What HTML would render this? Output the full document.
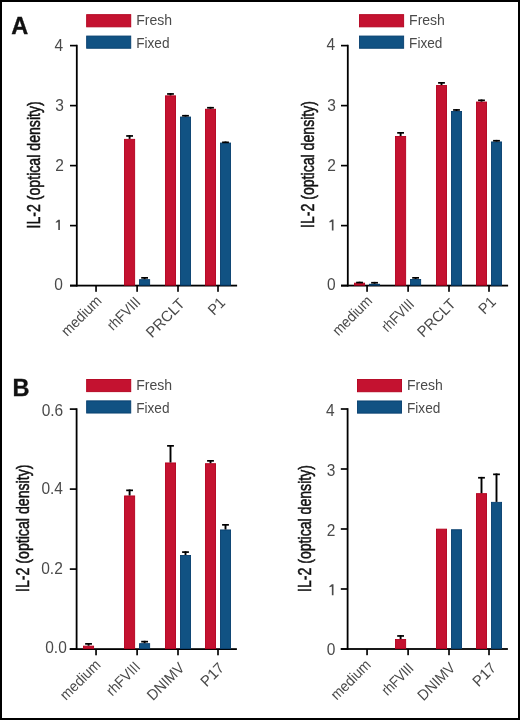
<!DOCTYPE html>
<html><head><meta charset="utf-8"><style>
html,body{margin:0;padding:0;background:#fff;}
.f{position:relative;width:516px;height:716px;border:2px solid #000;background:#fff;overflow:hidden;}
svg{position:absolute;left:-2px;top:-2px;will-change:transform;}
text{font-family:"Liberation Sans",sans-serif;}
</style></head><body><div class="f">
<svg width="520" height="720" viewBox="0 0 520 720">
<rect x="75.90" y="44.78" width="1.80" height="241.72" fill="#000"/>
<rect x="70.00" y="284.70" width="167.10" height="1.80" fill="#000"/>
<rect x="70.00" y="284.78" width="6.80" height="1.65" fill="#000"/>
<text transform="translate(62.80,290.45) scale(0.9700,1)" font-size="16" text-anchor="end" fill="#4a4a4a">0</text>
<rect x="70.00" y="224.78" width="6.80" height="1.65" fill="#000"/>
<path d="M58.25,219.70 L59.90,219.70 L59.90,230.00 L58.25,230.00 L58.25,222.00 L55.90,222.80 L55.70,221.90 Z" fill="#4a4a4a"/>
<rect x="70.00" y="164.78" width="6.80" height="1.65" fill="#000"/>
<text transform="translate(63.80,170.60) scale(0.9700,1)" font-size="16" text-anchor="end" fill="#4a4a4a">2</text>
<rect x="70.00" y="104.78" width="6.80" height="1.65" fill="#000"/>
<text transform="translate(63.80,111.10) scale(0.9700,1)" font-size="16" text-anchor="end" fill="#4a4a4a">3</text>
<rect x="70.00" y="44.78" width="6.80" height="1.65" fill="#000"/>
<text transform="translate(63.20,50.80) scale(0.9700,1)" font-size="16" text-anchor="end" fill="#4a4a4a">4</text>
<rect x="95.22" y="285.60" width="1.65" height="6.20" fill="#000"/>
<text transform="translate(102.60,301.80) rotate(-45) scale(0.9371,1)" font-size="15" text-anchor="end" fill="#4a4a4a">medium</text>
<rect x="136.28" y="285.60" width="1.65" height="6.20" fill="#000"/>
<text transform="translate(141.40,303.00) rotate(-45) scale(0.8915,1)" font-size="15" text-anchor="end" fill="#4a4a4a">rhFVIII</text>
<rect x="177.18" y="285.60" width="1.65" height="6.20" fill="#000"/>
<text transform="translate(185.80,304.60) rotate(-45) scale(0.9969,1)" font-size="15" text-anchor="end" fill="#4a4a4a">PRCLT</text>
<rect x="217.18" y="285.60" width="1.65" height="6.20" fill="#000"/>
<text transform="translate(226.20,303.60) rotate(-45) scale(0.9490,1)" font-size="15" text-anchor="end" fill="#4a4a4a">P1</text>
<rect x="124.55" y="139.35" width="10.10" height="145.80" fill="#c41230" stroke="#b3001d" stroke-width="0.9"/>
<rect x="128.65" y="135.10" width="1.90" height="3.80" fill="#000"/>
<rect x="126.20" y="135.10" width="6.80" height="1.70" fill="#000"/>
<rect x="139.55" y="279.65" width="10.10" height="5.50" fill="#115283" stroke="#073f6e" stroke-width="0.9"/>
<rect x="143.65" y="277.00" width="1.90" height="2.20" fill="#000"/>
<rect x="141.20" y="277.00" width="6.80" height="1.70" fill="#000"/>
<rect x="165.45" y="95.85" width="10.10" height="189.30" fill="#c41230" stroke="#b3001d" stroke-width="0.9"/>
<rect x="169.55" y="93.10" width="1.90" height="2.30" fill="#000"/>
<rect x="167.10" y="93.10" width="6.80" height="1.70" fill="#000"/>
<rect x="180.45" y="117.05" width="10.10" height="168.10" fill="#115283" stroke="#073f6e" stroke-width="0.9"/>
<rect x="184.55" y="114.90" width="1.90" height="1.70" fill="#000"/>
<rect x="182.10" y="114.90" width="6.80" height="1.70" fill="#000"/>
<rect x="205.45" y="109.25" width="10.10" height="175.90" fill="#c41230" stroke="#b3001d" stroke-width="0.9"/>
<rect x="209.55" y="106.90" width="1.90" height="1.90" fill="#000"/>
<rect x="207.10" y="106.90" width="6.80" height="1.70" fill="#000"/>
<rect x="220.45" y="143.05" width="10.10" height="142.10" fill="#115283" stroke="#073f6e" stroke-width="0.9"/>
<rect x="224.55" y="141.50" width="1.90" height="1.10" fill="#000"/>
<rect x="222.10" y="141.50" width="6.80" height="1.70" fill="#000"/>
<rect x="86.65" y="14.65" width="44.10" height="12.20" fill="#c41230" stroke="#b3001d" stroke-width="0.9"/>
<rect x="86.65" y="36.05" width="44.10" height="12.20" fill="#115283" stroke="#073f6e" stroke-width="0.9"/>
<text transform="translate(136.20,25.10) scale(0.9050,1)" font-size="15.5" text-anchor="start" fill="#4a4a4a">Fresh</text>
<text transform="translate(136.20,47.80) scale(0.8800,1)" font-size="15.5" text-anchor="start" fill="#4a4a4a">Fixed</text>
<text transform="translate(39.50,228.50) rotate(-90) scale(0.7731,1)" font-size="18.3" text-anchor="start" fill="#111" stroke="#111" stroke-width="0.5">IL-2 (optical density)</text>
<rect x="346.90" y="44.78" width="1.80" height="241.72" fill="#000"/>
<rect x="341.00" y="284.70" width="167.10" height="1.80" fill="#000"/>
<rect x="341.00" y="284.78" width="6.80" height="1.65" fill="#000"/>
<text transform="translate(335.60,290.35) scale(0.9700,1)" font-size="16" text-anchor="end" fill="#4a4a4a">0</text>
<rect x="341.00" y="224.78" width="6.80" height="1.65" fill="#000"/>
<path d="M331.85,219.40 L333.50,219.40 L333.50,230.60 L331.85,230.60 L331.85,221.70 L329.50,222.50 L329.30,221.60 Z" fill="#4a4a4a"/>
<rect x="341.00" y="164.78" width="6.80" height="1.65" fill="#000"/>
<text transform="translate(335.80,170.60) scale(0.9700,1)" font-size="16" text-anchor="end" fill="#4a4a4a">2</text>
<rect x="341.00" y="104.78" width="6.80" height="1.65" fill="#000"/>
<text transform="translate(335.80,111.10) scale(0.9700,1)" font-size="16" text-anchor="end" fill="#4a4a4a">3</text>
<rect x="341.00" y="44.78" width="6.80" height="1.65" fill="#000"/>
<text transform="translate(335.20,50.30) scale(0.9700,1)" font-size="16" text-anchor="end" fill="#4a4a4a">4</text>
<rect x="366.23" y="285.60" width="1.65" height="6.20" fill="#000"/>
<text transform="translate(373.20,301.80) rotate(-45) scale(0.9227,1)" font-size="15" text-anchor="end" fill="#4a4a4a">medium</text>
<rect x="407.28" y="285.60" width="1.65" height="6.20" fill="#000"/>
<text transform="translate(415.00,305.20) rotate(-45) scale(0.8657,1)" font-size="15" text-anchor="end" fill="#4a4a4a">rhFVIII</text>
<rect x="448.18" y="285.60" width="1.65" height="6.20" fill="#000"/>
<text transform="translate(456.60,304.80) rotate(-45) scale(0.9797,1)" font-size="15" text-anchor="end" fill="#4a4a4a">PRCLT</text>
<rect x="488.18" y="285.60" width="1.65" height="6.20" fill="#000"/>
<text transform="translate(496.80,302.80) rotate(-45) scale(0.9496,1)" font-size="15" text-anchor="end" fill="#4a4a4a">P1</text>
<rect x="354.50" y="283.15" width="10.10" height="2.00" fill="#c41230" stroke="#b3001d" stroke-width="0.9"/>
<rect x="358.60" y="281.70" width="1.90" height="1.00" fill="#000"/>
<rect x="356.15" y="281.70" width="6.80" height="1.70" fill="#000"/>
<rect x="369.50" y="284.25" width="10.10" height="0.90" fill="#115283" stroke="#073f6e" stroke-width="0.9"/>
<rect x="373.60" y="281.90" width="1.90" height="1.90" fill="#000"/>
<rect x="371.15" y="281.90" width="6.80" height="1.70" fill="#000"/>
<rect x="395.55" y="136.45" width="10.10" height="148.70" fill="#c41230" stroke="#b3001d" stroke-width="0.9"/>
<rect x="399.65" y="132.00" width="1.90" height="4.00" fill="#000"/>
<rect x="397.20" y="132.00" width="6.80" height="1.70" fill="#000"/>
<rect x="410.55" y="279.45" width="10.10" height="5.70" fill="#115283" stroke="#073f6e" stroke-width="0.9"/>
<rect x="414.65" y="277.00" width="1.90" height="2.00" fill="#000"/>
<rect x="412.20" y="277.00" width="6.80" height="1.70" fill="#000"/>
<rect x="436.45" y="85.55" width="10.10" height="199.60" fill="#c41230" stroke="#b3001d" stroke-width="0.9"/>
<rect x="440.55" y="82.00" width="1.90" height="3.10" fill="#000"/>
<rect x="438.10" y="82.00" width="6.80" height="1.70" fill="#000"/>
<rect x="451.45" y="111.45" width="10.10" height="173.70" fill="#115283" stroke="#073f6e" stroke-width="0.9"/>
<rect x="455.55" y="109.10" width="1.90" height="1.90" fill="#000"/>
<rect x="453.10" y="109.10" width="6.80" height="1.70" fill="#000"/>
<rect x="476.45" y="102.05" width="10.10" height="183.10" fill="#c41230" stroke="#b3001d" stroke-width="0.9"/>
<rect x="480.55" y="99.50" width="1.90" height="2.10" fill="#000"/>
<rect x="478.10" y="99.50" width="6.80" height="1.70" fill="#000"/>
<rect x="491.45" y="141.95" width="10.10" height="143.20" fill="#115283" stroke="#073f6e" stroke-width="0.9"/>
<rect x="495.55" y="139.90" width="1.90" height="1.60" fill="#000"/>
<rect x="493.10" y="139.90" width="6.80" height="1.70" fill="#000"/>
<rect x="359.55" y="14.65" width="44.10" height="12.20" fill="#c41230" stroke="#b3001d" stroke-width="0.9"/>
<rect x="359.55" y="36.05" width="44.10" height="12.20" fill="#115283" stroke="#073f6e" stroke-width="0.9"/>
<text transform="translate(409.10,25.10) scale(0.9050,1)" font-size="15.5" text-anchor="start" fill="#4a4a4a">Fresh</text>
<text transform="translate(409.10,47.80) scale(0.8800,1)" font-size="15.5" text-anchor="start" fill="#4a4a4a">Fixed</text>
<text transform="translate(314.00,228.00) rotate(-90) scale(0.7713,1)" font-size="18.3" text-anchor="start" fill="#111" stroke="#111" stroke-width="0.5">IL-2 (optical density)</text>
<rect x="75.70" y="408.28" width="1.80" height="241.72" fill="#000"/>
<rect x="69.80" y="648.20" width="167.10" height="1.80" fill="#000"/>
<rect x="69.80" y="648.27" width="6.80" height="1.65" fill="#000"/>
<text transform="translate(66.80,652.55) scale(0.9700,1)" font-size="16" text-anchor="end" fill="#4a4a4a">0.0</text>
<rect x="69.80" y="568.27" width="6.80" height="1.65" fill="#000"/>
<text transform="translate(62.80,573.55) scale(0.9700,1)" font-size="16" text-anchor="end" fill="#4a4a4a">0.2</text>
<rect x="69.80" y="488.28" width="6.80" height="1.65" fill="#000"/>
<text transform="translate(63.00,494.45) scale(0.9700,1)" font-size="16" text-anchor="end" fill="#4a4a4a">0.4</text>
<rect x="69.80" y="408.28" width="6.80" height="1.65" fill="#000"/>
<text transform="translate(63.20,416.00) scale(0.9700,1)" font-size="16" text-anchor="end" fill="#4a4a4a">0.6</text>
<rect x="95.22" y="649.10" width="1.65" height="6.20" fill="#000"/>
<text transform="translate(101.40,665.80) rotate(-45) scale(0.9365,1)" font-size="15" text-anchor="end" fill="#4a4a4a">medium</text>
<rect x="136.28" y="649.10" width="1.65" height="6.20" fill="#000"/>
<text transform="translate(141.20,667.80) rotate(-45) scale(0.9089,1)" font-size="15" text-anchor="end" fill="#4a4a4a">rhFVIII</text>
<rect x="177.18" y="649.10" width="1.65" height="6.20" fill="#000"/>
<text transform="translate(185.40,668.80) rotate(-45) scale(0.9480,1)" font-size="15" text-anchor="end" fill="#4a4a4a">DNIMV</text>
<rect x="217.18" y="649.10" width="1.65" height="6.20" fill="#000"/>
<text transform="translate(225.20,668.80) rotate(-45) scale(0.9973,1)" font-size="15" text-anchor="end" fill="#4a4a4a">P17</text>
<rect x="83.50" y="646.15" width="10.10" height="2.50" fill="#c41230" stroke="#b3001d" stroke-width="0.9"/>
<rect x="87.60" y="643.00" width="1.90" height="2.70" fill="#000"/>
<rect x="85.15" y="643.00" width="6.80" height="1.70" fill="#000"/>
<rect x="124.55" y="495.95" width="10.10" height="152.70" fill="#c41230" stroke="#b3001d" stroke-width="0.9"/>
<rect x="128.65" y="489.50" width="1.90" height="6.00" fill="#000"/>
<rect x="126.20" y="489.50" width="6.80" height="1.70" fill="#000"/>
<rect x="139.55" y="643.65" width="10.10" height="5.00" fill="#115283" stroke="#073f6e" stroke-width="0.9"/>
<rect x="143.65" y="640.80" width="1.90" height="2.40" fill="#000"/>
<rect x="141.20" y="640.80" width="6.80" height="1.70" fill="#000"/>
<rect x="165.45" y="462.95" width="10.10" height="185.70" fill="#c41230" stroke="#b3001d" stroke-width="0.9"/>
<rect x="169.55" y="445.00" width="1.90" height="17.50" fill="#000"/>
<rect x="167.10" y="445.00" width="6.80" height="1.70" fill="#000"/>
<rect x="180.45" y="555.45" width="10.10" height="93.20" fill="#115283" stroke="#073f6e" stroke-width="0.9"/>
<rect x="184.55" y="551.25" width="1.90" height="3.75" fill="#000"/>
<rect x="182.10" y="551.25" width="6.80" height="1.70" fill="#000"/>
<rect x="205.45" y="463.70" width="10.10" height="184.95" fill="#c41230" stroke="#b3001d" stroke-width="0.9"/>
<rect x="209.55" y="460.00" width="1.90" height="3.25" fill="#000"/>
<rect x="207.10" y="460.00" width="6.80" height="1.70" fill="#000"/>
<rect x="220.45" y="529.95" width="10.10" height="118.70" fill="#115283" stroke="#073f6e" stroke-width="0.9"/>
<rect x="224.55" y="524.00" width="1.90" height="5.50" fill="#000"/>
<rect x="222.10" y="524.00" width="6.80" height="1.70" fill="#000"/>
<rect x="86.65" y="379.45" width="44.10" height="12.20" fill="#c41230" stroke="#b3001d" stroke-width="0.9"/>
<rect x="86.65" y="400.85" width="44.10" height="12.20" fill="#115283" stroke="#073f6e" stroke-width="0.9"/>
<text transform="translate(136.20,389.90) scale(0.9050,1)" font-size="15.5" text-anchor="start" fill="#4a4a4a">Fresh</text>
<text transform="translate(136.20,412.60) scale(0.8800,1)" font-size="15.5" text-anchor="start" fill="#4a4a4a">Fixed</text>
<text transform="translate(29.00,592.00) rotate(-90) scale(0.7737,1)" font-size="18.3" text-anchor="start" fill="#111" stroke="#111" stroke-width="0.5">IL-2 (optical density)</text>
<rect x="346.70" y="408.18" width="1.80" height="241.72" fill="#000"/>
<rect x="340.80" y="648.10" width="167.10" height="1.80" fill="#000"/>
<rect x="340.80" y="648.17" width="6.80" height="1.65" fill="#000"/>
<text transform="translate(335.40,655.20) scale(0.9700,1)" font-size="16" text-anchor="end" fill="#4a4a4a">0</text>
<rect x="340.80" y="588.17" width="6.80" height="1.65" fill="#000"/>
<path d="M331.85,584.20 L333.50,584.20 L333.50,595.30 L331.85,595.30 L331.85,586.50 L329.50,587.30 L329.30,586.40 Z" fill="#4a4a4a"/>
<rect x="340.80" y="528.17" width="6.80" height="1.65" fill="#000"/>
<text transform="translate(335.40,536.05) scale(0.9700,1)" font-size="16" text-anchor="end" fill="#4a4a4a">2</text>
<rect x="340.80" y="468.18" width="6.80" height="1.65" fill="#000"/>
<text transform="translate(335.40,475.70) scale(0.9700,1)" font-size="16" text-anchor="end" fill="#4a4a4a">3</text>
<rect x="340.80" y="408.18" width="6.80" height="1.65" fill="#000"/>
<text transform="translate(334.60,415.55) scale(0.9700,1)" font-size="16" text-anchor="end" fill="#4a4a4a">4</text>
<rect x="366.23" y="649.00" width="1.65" height="6.20" fill="#000"/>
<text transform="translate(371.80,665.80) rotate(-45) scale(0.9293,1)" font-size="15" text-anchor="end" fill="#4a4a4a">medium</text>
<rect x="407.28" y="649.00" width="1.65" height="6.20" fill="#000"/>
<text transform="translate(414.40,669.20) rotate(-45) scale(0.8495,1)" font-size="15" text-anchor="end" fill="#4a4a4a">rhFVIII</text>
<rect x="448.18" y="649.00" width="1.65" height="6.20" fill="#000"/>
<text transform="translate(456.20,668.80) rotate(-45) scale(0.9559,1)" font-size="15" text-anchor="end" fill="#4a4a4a">DNIMV</text>
<rect x="488.18" y="649.00" width="1.65" height="6.20" fill="#000"/>
<text transform="translate(497.20,668.80) rotate(-45) scale(0.9973,1)" font-size="15" text-anchor="end" fill="#4a4a4a">P17</text>
<rect x="395.55" y="639.55" width="10.10" height="9.00" fill="#c41230" stroke="#b3001d" stroke-width="0.9"/>
<rect x="399.65" y="635.10" width="1.90" height="4.00" fill="#000"/>
<rect x="397.20" y="635.10" width="6.80" height="1.70" fill="#000"/>
<rect x="436.45" y="529.15" width="10.10" height="119.40" fill="#c41230" stroke="#b3001d" stroke-width="0.9"/>
<rect x="451.45" y="529.75" width="10.10" height="118.80" fill="#115283" stroke="#073f6e" stroke-width="0.9"/>
<rect x="476.45" y="493.65" width="10.10" height="154.90" fill="#c41230" stroke="#b3001d" stroke-width="0.9"/>
<rect x="480.55" y="476.90" width="1.90" height="16.30" fill="#000"/>
<rect x="478.10" y="476.90" width="6.80" height="1.70" fill="#000"/>
<rect x="491.45" y="502.35" width="10.10" height="146.20" fill="#115283" stroke="#073f6e" stroke-width="0.9"/>
<rect x="495.55" y="473.50" width="1.90" height="28.40" fill="#000"/>
<rect x="493.10" y="473.50" width="6.80" height="1.70" fill="#000"/>
<rect x="357.45" y="379.55" width="44.10" height="12.20" fill="#c41230" stroke="#b3001d" stroke-width="0.9"/>
<rect x="357.45" y="400.95" width="44.10" height="12.20" fill="#115283" stroke="#073f6e" stroke-width="0.9"/>
<text transform="translate(407.00,390.00) scale(0.9050,1)" font-size="15.5" text-anchor="start" fill="#4a4a4a">Fresh</text>
<text transform="translate(407.00,412.70) scale(0.8800,1)" font-size="15.5" text-anchor="start" fill="#4a4a4a">Fixed</text>
<text transform="translate(310.50,592.00) rotate(-90) scale(0.7712,1)" font-size="18.3" text-anchor="start" fill="#111" stroke="#111" stroke-width="0.5">IL-2 (optical density)</text>
<text x="11.3" y="34.3" font-size="23.5" font-weight="bold" fill="#111" stroke="#111" stroke-width="0.35">A</text>
<text x="12.6" y="396.1" font-size="23.5" font-weight="bold" fill="#111" stroke="#111" stroke-width="0.35">B</text>
</svg></div></body></html>
